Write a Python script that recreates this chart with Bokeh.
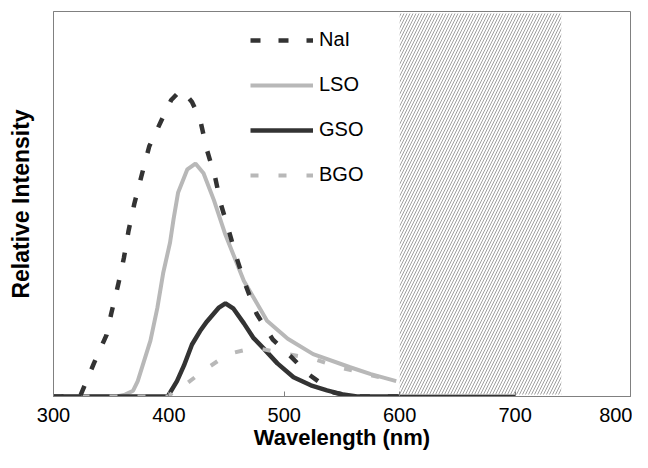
from bokeh.plotting import figure
from bokeh.models import Legend, LegendItem, FixedTicker
from bokeh.embed import file_html
from bokeh.resources import INLINE

# ---- data ----
nai_x = [300, 320, 323, 335, 346, 350, 356, 361, 365, 370, 376, 383, 394, 402, 410, 413, 420,
         427, 433, 440, 445, 452, 459, 466, 476, 490, 503, 520, 543, 560, 600]
nai_y = [0, 0, 0, 0.086, 0.16, 0.215, 0.29, 0.36, 0.43, 0.50, 0.57, 0.65, 0.72, 0.77, 0.795,
         0.79, 0.765, 0.72, 0.64, 0.57, 0.50, 0.43, 0.357, 0.293, 0.215, 0.148, 0.112, 0.06,
         0.01, 0, 0]

lso_x = [300, 355, 362, 369, 373, 384, 390, 395, 401, 404, 408, 416, 423, 430, 439, 449, 465,
         485, 503, 525, 557, 575, 597]
lso_y = [0, 0, 0.005, 0.015, 0.04, 0.145, 0.23, 0.32, 0.40, 0.46, 0.53, 0.59, 0.605, 0.58,
         0.51, 0.42, 0.30, 0.197, 0.15, 0.11, 0.076, 0.058, 0.04]

gso_x = [300, 399, 407, 413, 420, 427, 433, 443, 449, 456, 465, 473, 482, 494, 508, 523, 537,
         551, 563, 700]
gso_y = [0, 0, 0.04, 0.08, 0.135, 0.17, 0.195, 0.23, 0.242, 0.228, 0.19, 0.153, 0.125, 0.086,
         0.05, 0.029, 0.016, 0.005, 0, 0]

bgo_x = [300, 400, 407, 416, 430, 451, 465, 478, 503, 525, 550, 580, 597]
bgo_y = [0, 0, 0.024, 0.035, 0.067, 0.11, 0.12, 0.125, 0.11, 0.098, 0.074, 0.052, 0.038]

hatch_left = [600]
hatch_right = [740]

x_ticks = [300, 400, 500, 600, 700, 800]
series_names = ["NaI", "LSO", "GSO", "BGO"]

FONT = "Liberation Sans"

p = figure(width=632, height=452, x_range=(300, 800), y_range=(0, 1),
           output_backend="svg", toolbar_location=None,
           min_border_left=53, min_border_right=2, min_border_top=11, min_border_bottom=40)

p.xgrid.visible = False
p.ygrid.visible = False
p.outline_line_color = "#808080"
p.outline_line_width = 1
p.background_fill_color = "white"
p.border_fill_color = "white"

# x axis
p.xaxis.ticker = FixedTicker(ticks=x_ticks)
p.xaxis.major_tick_in = 5
p.xaxis.major_tick_out = 0
p.xaxis.minor_tick_line_color = None
p.xaxis.axis_line_color = "#808080"
p.xaxis.major_tick_line_color = "#808080"
p.xaxis.major_label_text_font = FONT
p.xaxis.major_label_text_font_size = "20px"
p.xaxis.major_label_text_color = "black"
p.xaxis.major_label_standoff = 11
p.xaxis.axis_label = "Wavelength (nm)"
p.xaxis.axis_label_text_font = FONT
p.xaxis.axis_label_text_font_size = "22px"
p.xaxis.axis_label_text_font_style = "bold"
p.xaxis.axis_label_text_color = "black"
p.xaxis.axis_label_standoff = 0

# y axis
p.yaxis.ticker = FixedTicker(ticks=[])
p.yaxis.major_tick_in = 0
p.yaxis.major_tick_out = 0
p.yaxis.minor_tick_line_color = None
p.yaxis.axis_line_color = "#808080"
p.yaxis.major_label_text_font_size = "0px"
p.yaxis.major_label_standoff = 0
p.yaxis.axis_label = "Relative Intensity"
p.yaxis.axis_label_text_font = FONT
p.yaxis.axis_label_text_font_size = "23px"
p.yaxis.axis_label_text_font_style = "bold"
p.yaxis.axis_label_text_color = "black"
p.yaxis.axis_label_standoff = 20

r_lso = p.line(lso_x, lso_y, line_color="#b8b8b8", line_width=4)
r_gso = p.line(gso_x, gso_y, line_color="#333333", line_width=4.5)
r_bgo = p.line(bgo_x, bgo_y, line_color="#b8b8b8", line_width=4, line_dash="8 20",
               line_cap="butt")
r_nai = p.line(nai_x, nai_y, line_color="#333333", line_width=4.5, line_dash="10 18",
               line_cap="butt")

p.quad(left=hatch_left, right=hatch_right, bottom=[0.005], top=[0.995],
       fill_color="white", line_color=None, hatch_pattern="/",
       hatch_color="#a0a0a0", hatch_scale=6, hatch_weight=1)

legend = Legend(items=[LegendItem(label=series_names[0], renderers=[r_nai]),
                       LegendItem(label=series_names[1], renderers=[r_lso]),
                       LegendItem(label=series_names[2], renderers=[r_gso]),
                       LegendItem(label=series_names[3], renderers=[r_bgo])],
                location=(197, 210), glyph_width=63, glyph_height=20, label_height=20,
                label_standoff=6, spacing=22, padding=0, margin=0,
                border_line_alpha=0, background_fill_alpha=0,
                label_text_font=FONT, label_text_font_size="20px",
                label_text_color="black")
p.add_layout(legend, "center")

open("out.html", "w").write(file_html(p, INLINE))
